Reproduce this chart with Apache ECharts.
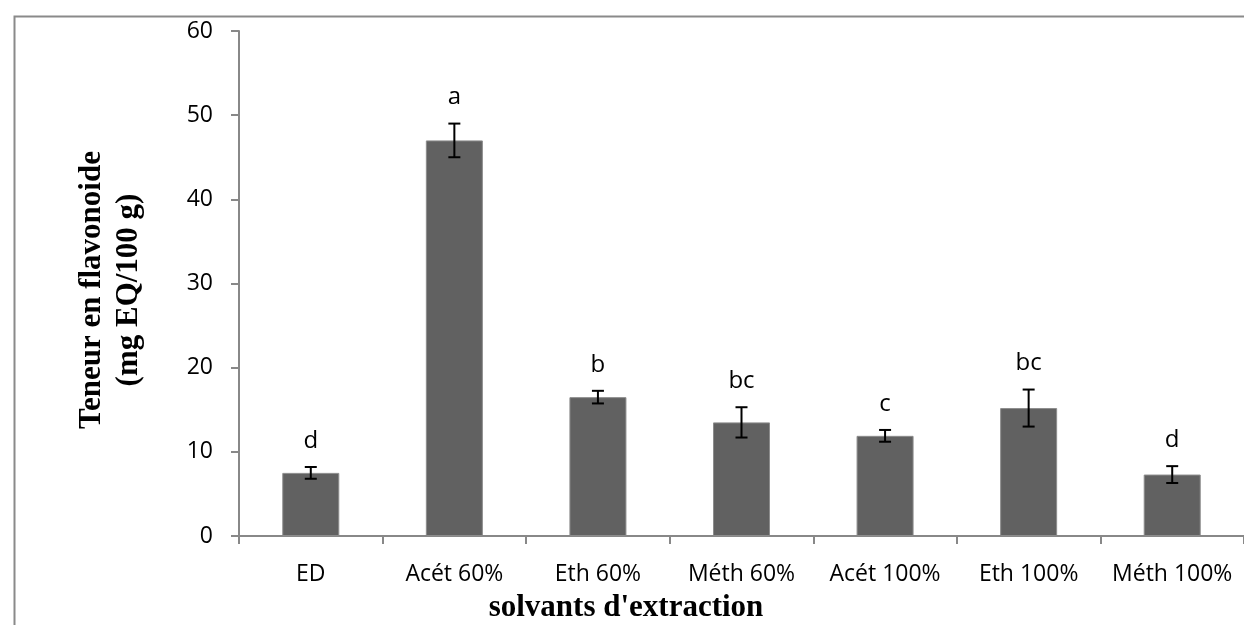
<!DOCTYPE html>
<html>
<head>
<meta charset="utf-8">
<script src="https://cdn.jsdelivr.net/npm/echarts@6/dist/echarts.min.js"></script>
<style>
html,body{margin:0;padding:0;background:#fff;}
#chart{width:1244px;height:625px;}
</style>
</head>
<body>
<div id="chart"></div>
<script>
var categories = ['ED', 'Acét 60%', 'Eth 60%', 'Méth 60%', 'Acét 100%', 'Eth 100%', 'Méth 100%'];
var values = [7.5, 47.0, 16.5, 13.5, 11.9, 15.2, 7.3];
var errors = [0.7, 2.0, 0.75, 1.8, 0.7, 2.2, 1.0];
var letters = ['d', 'a', 'b', 'bc', 'c', 'bc', 'd'];
var yTicks = [0, 10, 20, 30, 40, 50, 60];
var xTitle = "solvants d'extraction";
var yTitle = ['Teneur en flavonoide', '(mg EQ/100 g)'];

var errData = categories.map(function (c, i) {
  return [i, values[i] - errors[i], values[i] + errors[i], letters[i]];
});

var chart = echarts.init(document.getElementById('chart'), null, {renderer: 'canvas'});
var tickFont = '"Open Sans", sans-serif';
var axisColor = '#888888';

chart.setOption({
  animation: false,
  backgroundColor: '#ffffff',
  grid: {left: 239, top: 31, right: -6, bottom: 89, containLabel: false},
  xAxis: {
    type: 'category',
    data: categories,
    axisLine: {show: true, lineStyle: {color: axisColor, width: 2}},
    axisTick: {show: true, interval: 0, length: 8, lineStyle: {color: axisColor, width: 2}},
    axisLabel: {interval: 0, margin: 27, color: '#000', fontSize: 23, fontFamily: tickFont},
    splitLine: {show: false}
  },
  yAxis: {
    type: 'value',
    min: yTicks[0],
    max: yTicks[yTicks.length - 1],
    interval: yTicks[1] - yTicks[0],
    axisLine: {show: true, lineStyle: {color: axisColor, width: 2}},
    axisTick: {show: true, length: 8, lineStyle: {color: axisColor, width: 2}},
    axisLabel: {margin: 26, color: '#000', fontSize: 23, fontFamily: tickFont},
    splitLine: {show: false}
  },
  series: [
    {
      type: 'bar',
      data: values,
      barWidth: 57,
      itemStyle: {color: '#616161', borderColor: '#8c8c8c', borderWidth: 1}
    },
    {
      type: 'custom',
      data: errData,
      z: 5,
      renderItem: function (params, api) {
        var x = api.value(0);
        var lo = api.coord([x, api.value(1)]);
        var hi = api.coord([x, api.value(2)]);
        var half = 6;
        var st = {stroke: '#000', lineWidth: 2};
        return {
          type: 'group',
          children: [
            {type: 'line', shape: {x1: hi[0], y1: hi[1], x2: lo[0], y2: lo[1]}, style: st},
            {type: 'line', shape: {x1: hi[0] - half, y1: hi[1], x2: hi[0] + half, y2: hi[1]}, style: st},
            {type: 'line', shape: {x1: lo[0] - half, y1: lo[1], x2: lo[0] + half, y2: lo[1]}, style: st},
            {type: 'text', x: hi[0], y: hi[1] - 26,
              style: {text: api.value(3), fill: '#000', fontSize: 24, fontFamily: tickFont,
                align: 'center', verticalAlign: 'middle'}}
          ]
        };
      }
    }
  ],
  graphic: [
    {type: 'rect', left: 12, top: 14, z: -10, silent: true,
      shape: {x: 0, y: 0, width: 1260, height: 700},
      style: {fill: 'none', stroke: '#8a8a8a', lineWidth: 2}},
    {type: 'text', x: 626, y: 608, z: 10,
      style: {text: xTitle, fill: '#000', fontSize: 31, fontWeight: 'bold',
        fontFamily: '"Liberation Serif", "Times New Roman", serif', align: 'center', verticalAlign: 'middle'}},
    {type: 'text', x: 110, y: 290, rotation: Math.PI / 2, z: 10,
      style: {text: yTitle.join('\n'), fill: '#000', fontSize: 31, fontWeight: 'bold', lineHeight: 37,
        fontFamily: '"Liberation Serif", "Times New Roman", serif', align: 'center', verticalAlign: 'middle'}}
  ]
});
</script>
</body>
</html>
